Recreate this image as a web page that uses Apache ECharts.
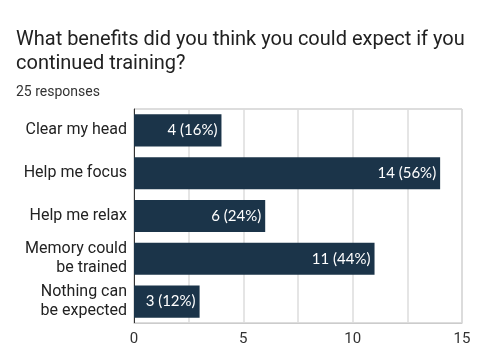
<!DOCTYPE html>
<html><head><meta charset="utf-8">
<script src="https://cdn.jsdelivr.net/npm/echarts@6/dist/echarts.min.js"></script>
<style>html,body{margin:0;padding:0;background:#fff}#c{width:480px;height:360px}</style>
</head><body><div id="c"></div>
<script>
var categories = ['Clear my head', 'Help me focus', 'Help me relax', 'Memory could\nbe trained', 'Nothing can\nbe expected'];
var counts = [4, 14, 6, 11, 3];
var percents = [16, 56, 24, 44, 12];
var totalResponses = 25;
var titleText = 'What benefits did you think you could expect if you\ncontinued training?';

var chart = echarts.init(document.getElementById('c'), null, {renderer: 'canvas'});
chart.setOption({
  animation: false,
  title: [{
    text: titleText,
    left: 11, top: 23,
    textStyle: {fontFamily: 'Roboto', fontSize: 20, fontWeight: 'normal', color: '#212121', lineHeight: 24}
  }, {
    text: totalResponses + ' responses',
    left: 11, top: 80,
    textStyle: {fontFamily: 'Roboto', fontSize: 14, fontWeight: 'normal', color: '#333'}
  }],
  grid: {left: 134, right: 18, top: 109, bottom: 37, show: true, borderColor: '#bbb', borderWidth: 1},
  xAxis: {
    type: 'value', min: 0, max: 15, interval: 2.5,
    axisLine: {show: true, lineStyle: {color: '#ccc', width: 1}},
    axisTick: {show: false},
    splitLine: {show: true, lineStyle: {color: '#ddd', width: 1.5}},
    axisLabel: {
      fontFamily: 'Roboto', fontSize: 15, color: '#333', margin: 9,
      formatter: function (v) { return v % 5 === 0 ? String(v) : ''; }
    }
  },
  yAxis: {
    type: 'category', data: categories, inverse: true,
    axisLine: {show: true, lineStyle: {color: '#333', width: 1}},
    axisTick: {show: false},
    axisLabel: {fontFamily: 'Roboto', fontSize: 16, color: '#222', margin: 7, lineHeight: 19, align: 'right'}
  },
  series: [{
    type: 'bar',
    data: counts,
    barCategoryGap: '25%',
    itemStyle: {color: '#1b3449'},
    label: {
      show: true, position: 'insideRight', distance: 4,
      fontFamily: 'Lato', fontSize: 15, color: '#fff',
      formatter: function (p) { return counts[p.dataIndex] + ' (' + percents[p.dataIndex] + '%)'; }
    }
  }]
});
</script></body></html>
